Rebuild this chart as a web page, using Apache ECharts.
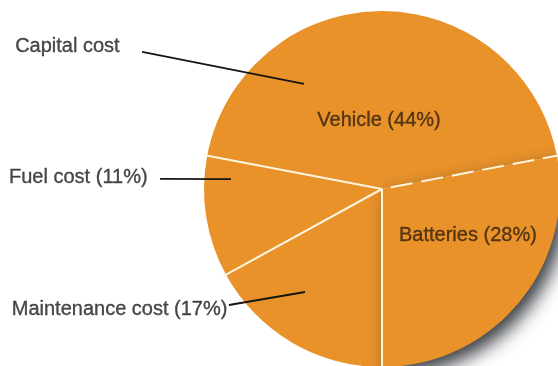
<!DOCTYPE html>
<html>
<head>
<meta charset="utf-8">
<script src="https://cdn.jsdelivr.net/npm/echarts@6/dist/echarts.min.js"></script>
<style>
  html, body { margin: 0; padding: 0; background: #ffffff; }
  #chart { width: 558px; height: 366px; }
</style>
</head>
<body>
<div id="chart"></div>
<script>
// Cost shares in percent, listed clockwise starting from the bottom of the pie
const categories = ['Maintenance cost', 'Fuel cost', 'Vehicle', 'Batteries'];
const shares = [17, 11, 44, 28];
// Vehicle and Batteries together make up the capital cost
const groupLabel = 'Capital cost';
const capitalParts = ['Vehicle', 'Batteries'];

// ---- layout / style ----
const CENTER = [382, 189];
const R = 178;                 // pie radius in px
const FONT = "'Liberation Sans', Arial, Helvetica, sans-serif";
const ORANGE = '#E9922A';
const SEP = '#FFF5DE';
const INK = '#1c1c1c';
const INNER_INK = '#33220e';

const labelOf = i => categories[i] + ' (' + shares[i] + '%)';
const idx = name => categories.indexOf(name);

// cumulative start of every slice, in percent around the circle
const starts = [];
shares.reduce((acc, v) => { starts.push(acc); return acc + v; }, 0);

// polar frame shared with the pie: angle in percent, radius in pie radii
const polar = { center: CENTER, radius: 2 * R };
const angleAxis = { type: 'value', min: 0, max: 100, startAngle: 270, clockwise: true, show: false };
const radiusAxis = { type: 'value', min: 0, max: 2, show: false };

// radial separators between slices; the one splitting the capital cost is dashed
const separators = starts.map((s, i) => {
  const prev = categories[(i + categories.length - 1) % categories.length];
  const dashed = capitalParts.includes(prev) && capitalParts.includes(categories[i]);
  return {
    type: 'line', coordinateSystem: 'polar', silent: true, clip: false, z: 5,
    showSymbol: false, symbol: 'none',
    lineStyle: dashed
      ? { color: SEP, width: 2, type: [22, 9], dashOffset: 22 }
      : { color: SEP, width: 2 },
    data: [[0, s], [1.02, s]]
  };
});

// callouts on the left: text anchor point (outside) and pointer end (inside the slice)
const callouts = [
  { text: groupLabel,                      from: [1.552, 33.26], to: [0.735, 39.83], gap: 22, dy: -5 },
  { text: labelOf(idx('Fuel cost')),        from: [1.248, 25.72], to: [0.850, 26.05], gap: 12, dy: -1 },
  { text: labelOf(idx('Maintenance cost')), from: [1.079, 14.68], to: [0.7225, 10.22], gap: 1, dy: 4 }
];

const leaderLines = callouts.map(c => ({
  type: 'line', coordinateSystem: 'polar', silent: true, clip: false, z: 6,
  showSymbol: false, symbol: 'none',
  lineStyle: { color: '#151515', width: 1.8 },
  data: [c.from, c.to]
}));

const textStyle = (color) => ({
  color, fontSize: 20, fontFamily: FONT,
  textBorderColor: color, textBorderWidth: 0.35
});

const calloutText = {
  type: 'scatter', coordinateSystem: 'polar', silent: true, clip: false, z: 7,
  symbolSize: 1, itemStyle: { color: 'rgba(0,0,0,0)' },
  data: callouts.map(c => ({
    value: c.from,
    label: Object.assign({
      show: true, position: 'left', distance: c.gap, offset: [0, c.dy], formatter: c.text
    }, textStyle(INK))
  }))
};

// in-slice labels for the two capital cost parts
const innerSpots = { 'Vehicle': [0.388, 49.31], 'Batteries': [0.549, 82.9] };
const innerText = {
  type: 'scatter', coordinateSystem: 'polar', silent: true, clip: false, z: 7,
  symbolSize: 1, itemStyle: { color: 'rgba(0,0,0,0)' },
  data: capitalParts.map(n => ({
    value: innerSpots[n],
    label: Object.assign({
      show: true, position: 'inside', formatter: labelOf(idx(n))
    }, textStyle(INNER_INK))
  }))
};

const pie = {
  type: 'pie', center: CENTER, radius: R, startAngle: 270, clockwise: true,
  silent: true, z: 2, label: { show: false }, labelLine: { show: false },
  itemStyle: { color: ORANGE, borderWidth: 0 },
  data: categories.map((name, i) => ({
    name, value: shares[i],
    itemStyle: name === 'Batteries'
      ? { color: ORANGE, shadowColor: 'rgba(35,40,45,0.9)', shadowBlur: 18, shadowOffsetX: 7, shadowOffsetY: 8 }
      : { color: ORANGE }
  }))
};

const chart = echarts.init(document.getElementById('chart'), null, { renderer: 'canvas' });
chart.setOption({
  animation: false,
  backgroundColor: '#ffffff',
  polar, angleAxis, radiusAxis,
  series: [pie, ...separators, ...leaderLines, calloutText, innerText]
});
</script>
</body>
</html>
